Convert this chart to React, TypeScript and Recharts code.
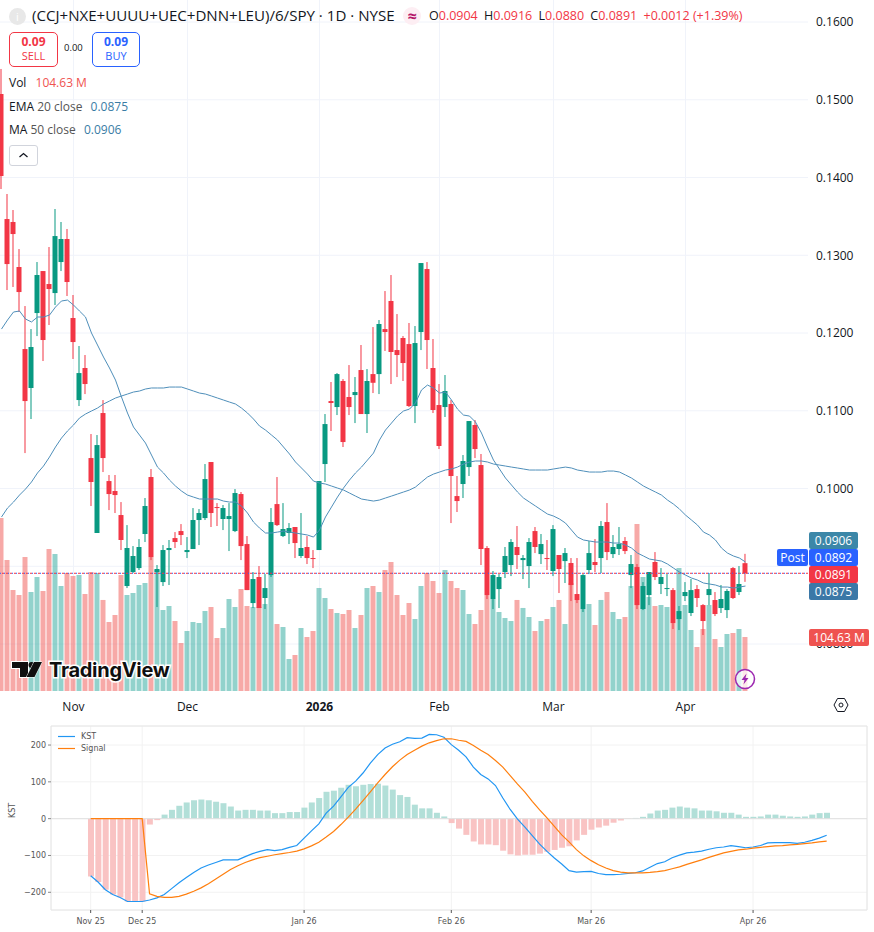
import React from 'react';
import { ComposedChart, Bar, Line, Cell, XAxis, YAxis, CartesianGrid, ReferenceLine, ReferenceArea } from 'recharts';

const opens = [
  0.15074, 0.13466, 0.13428, 0.12849, 0.11794, 0.11293, 0.12257, 0.12797, 0.12630, 0.12514,
  0.12913, 0.13209, 0.12193, 0.11138, 0.11550, 0.10392, 0.09428, 0.10971, 0.10096, 0.09968,
  0.09659, 0.08746, 0.08926, 0.08977, 0.09415, 0.10148, 0.08926, 0.08797, 0.09209, 0.09363,
  0.09453, 0.09183, 0.09222, 0.09595, 0.09620, 0.10341, 0.09762, 0.09608, 0.09608, 0.09453,
  0.09929, 0.09286, 0.08527, 0.08862, 0.08592, 0.08887, 0.09800, 0.09389, 0.09428, 0.09505,
  0.09132, 0.09248, 0.09106, 0.09209, 0.10315, 0.11125, 0.11048, 0.11383, 0.11177, 0.11202,
  0.11524, 0.10958, 0.11472, 0.11472, 0.12051, 0.12412, 0.11781, 0.11936, 0.11858, 0.11061,
  0.12013, 0.12823, 0.11550, 0.11074, 0.11048, 0.11087, 0.09903, 0.10058, 0.10276, 0.10817,
  0.10302, 0.09235, 0.08579, 0.08707, 0.08926, 0.09016, 0.09248, 0.09080, 0.09003, 0.09453,
  0.09157, 0.09106, 0.08939, 0.09145, 0.09067, 0.09042, 0.08643, 0.08450, 0.08952, 0.09055,
  0.09106, 0.09569, 0.09157, 0.09222, 0.09325, 0.08887, 0.08990, 0.08450, 0.08630, 0.09055,
  0.08772, 0.08707, 0.08694, 0.08321, 0.08617, 0.08399, 0.08707, 0.08501, 0.08630, 0.08566,
  0.08463, 0.08437, 0.08977, 0.08669, 0.09040,
];
const highs = [
  0.15396, 0.13788, 0.13582, 0.13080, 0.12347, 0.12051, 0.12913, 0.12797, 0.13106, 0.13595,
  0.13428, 0.13338, 0.12489, 0.11833, 0.11717, 0.10701, 0.10688, 0.11138, 0.10174, 0.10174,
  0.09826, 0.09530, 0.09260, 0.09350, 0.09878, 0.10251, 0.09016, 0.09273, 0.09338, 0.09440,
  0.09543, 0.09376, 0.09749, 0.09736, 0.10315, 0.10341, 0.09813, 0.09788, 0.09813, 0.09993,
  0.09955, 0.09389, 0.08926, 0.09003, 0.08900, 0.09749, 0.10148, 0.09813, 0.09556, 0.09505,
  0.09685, 0.09389, 0.09209, 0.10096, 0.10958, 0.11370, 0.11485, 0.11408, 0.11588, 0.11434,
  0.11846, 0.11537, 0.12077, 0.12167, 0.12540, 0.12746, 0.12244, 0.11961, 0.12129, 0.12090,
  0.12900, 0.12913, 0.11923, 0.11344, 0.11460, 0.11138, 0.10161, 0.10431, 0.10868, 0.10881,
  0.10444, 0.09260, 0.08939, 0.08900, 0.09248, 0.09350, 0.09518, 0.09145, 0.09363, 0.09505,
  0.09415, 0.09338, 0.09530, 0.09145, 0.09235, 0.09106, 0.09106, 0.08900, 0.09325, 0.09350,
  0.09582, 0.09813, 0.09402, 0.09505, 0.09376, 0.09145, 0.09029, 0.08797, 0.08926, 0.09183,
  0.08977, 0.08900, 0.08720, 0.08489, 0.08797, 0.08836, 0.08759, 0.08514, 0.08913, 0.08669,
  0.08759, 0.08707, 0.08990, 0.09003, 0.09160,
];
const lows = [
  0.13852, 0.12553, 0.12592, 0.12270, 0.10456, 0.10894, 0.11961, 0.11640, 0.12103, 0.12360,
  0.12797, 0.12476, 0.11666, 0.11061, 0.11215, 0.09775, 0.09428, 0.10212, 0.09723, 0.09685,
  0.09209, 0.08720, 0.08913, 0.08952, 0.09312, 0.09080, 0.08476, 0.08746, 0.08759, 0.09235,
  0.09273, 0.09106, 0.09222, 0.09273, 0.09595, 0.09505, 0.09518, 0.09466, 0.09196, 0.09440,
  0.09080, 0.08694, 0.08463, 0.08463, 0.08450, 0.08862, 0.09518, 0.09376, 0.09286, 0.09106,
  0.09106, 0.09029, 0.08977, 0.09209, 0.10084, 0.10740, 0.10945, 0.10534, 0.10945, 0.10842,
  0.10958, 0.10714, 0.11228, 0.11215, 0.11769, 0.11344, 0.11434, 0.11383, 0.11048, 0.10842,
  0.11781, 0.11537, 0.10971, 0.10508, 0.10920, 0.09556, 0.09698, 0.09878, 0.10161, 0.10392,
  0.09016, 0.08579, 0.08450, 0.08463, 0.08849, 0.08874, 0.08965, 0.08836, 0.08720, 0.09170,
  0.09029, 0.08952, 0.08874, 0.08656, 0.08785, 0.08553, 0.08527, 0.08412, 0.08900, 0.08926,
  0.08913, 0.09080, 0.09106, 0.09145, 0.09157, 0.08720, 0.08450, 0.08437, 0.08501, 0.08823,
  0.08643, 0.08617, 0.08193, 0.08180, 0.08553, 0.08360, 0.08476, 0.08116, 0.08501, 0.08360,
  0.08399, 0.08334, 0.08579, 0.08630, 0.08800,
];
const closes = [
  0.14019, 0.12887, 0.13273, 0.12527, 0.11125, 0.11820, 0.12746, 0.11910, 0.12566, 0.13247,
  0.13209, 0.12656, 0.11884, 0.11485, 0.11344, 0.10084, 0.10559, 0.10392, 0.09929, 0.09916,
  0.09338, 0.09235, 0.09132, 0.09248, 0.09775, 0.09119, 0.08965, 0.09209, 0.09235, 0.09312,
  0.09402, 0.09209, 0.09595, 0.09685, 0.10122, 0.09685, 0.09749, 0.09749, 0.09646, 0.09942,
  0.09260, 0.08694, 0.08836, 0.08463, 0.08720, 0.09569, 0.09530, 0.09479, 0.09492, 0.09299,
  0.09235, 0.09106, 0.09093, 0.10096, 0.10829, 0.11100, 0.11472, 0.10598, 0.11048, 0.11241,
  0.10958, 0.11383, 0.11360, 0.12116, 0.12013, 0.11756, 0.11717, 0.11614, 0.11061, 0.11871,
  0.12900, 0.11910, 0.11010, 0.10547, 0.11254, 0.10161, 0.09839, 0.10354, 0.10868, 0.10508,
  0.09222, 0.08630, 0.08887, 0.08862, 0.09132, 0.09312, 0.09145, 0.09106, 0.09312, 0.09248,
  0.09286, 0.09093, 0.09479, 0.08965, 0.09170, 0.08759, 0.08566, 0.08887, 0.09170, 0.09016,
  0.09518, 0.09183, 0.09248, 0.09286, 0.09196, 0.09029, 0.08501, 0.08746, 0.08926, 0.08862,
  0.08862, 0.08720, 0.08270, 0.08424, 0.08669, 0.08694, 0.08592, 0.08296, 0.08707, 0.08386,
  0.08579, 0.08682, 0.08592, 0.08772, 0.08910,
];
// volume in millions
const volumes = [
  335.3, 253.9, 195.7, 186, 259.7, 191.9, 220.9, 193.8, 275.2, 265.5,
  203.5, 228.7, 222.9, 224.8, 188, 230.6, 228.7, 176.4, 133.7, 147.3,
  224.8, 186, 189.9, 205.4, 209.3, 259.7, 234.5, 157, 164.7, 135.7,
  93, 116.3, 133.7, 131.8, 155, 162.8, 102.7, 122.1, 178.3, 162.8,
  197.7, 164.7, 162.8, 162.8, 168.6, 224.8, 129.8, 124, 62, 69.8,
  122.1, 104.7, 116.3, 199.6, 180.2, 158.9, 151.2, 149.2, 157, 122.1,
  147.3, 199.6, 203.5, 191.9, 234.5, 250, 186, 147.3, 170.5, 139.5,
  203.5, 228.7, 213.2, 189.9, 234.5, 213.2, 199.6, 195.7, 149.2, 129.8,
  157, 186, 178.3, 153.1, 141.5, 135.7, 176.4, 160.9, 143.4, 116.3,
  135.7, 139.5, 162.8, 176.4, 129.8, 209.3, 176.4, 158.9, 168.6, 127.9,
  176.4, 191.9, 153.1, 139.5, 143.4, 203.5, 323.6, 220.9, 182.2, 164.7,
  166.7, 162.8, 131.8, 238.4, 166.7, 118.2, 85.3, 120.2, 166.7, 100.8,
  85.3, 110.5, 112.4, 120.2, 104.63,
];
const ema20 = [
  0.12051, 0.12167, 0.12270, 0.12283, 0.12180, 0.12142, 0.12206, 0.12206, 0.12231, 0.12334,
  0.12412, 0.12424, 0.12360, 0.12283, 0.12206, 0.12000, 0.11846, 0.11691, 0.11550, 0.11395,
  0.11177, 0.10971, 0.10791, 0.10688, 0.10585, 0.10431, 0.10276, 0.10200, 0.10109, 0.10032,
  0.09968, 0.09916, 0.09890, 0.09865, 0.09865, 0.09865, 0.09865, 0.09839, 0.09826, 0.09826,
  0.09775, 0.09685, 0.09569, 0.09492, 0.09428, 0.09428, 0.09440, 0.09453, 0.09440, 0.09428,
  0.09415, 0.09402, 0.09376, 0.09466, 0.09634, 0.09762, 0.09890, 0.10006, 0.10109, 0.10200,
  0.10276, 0.10366, 0.10456, 0.10624, 0.10752, 0.10842, 0.10932, 0.10997, 0.11022, 0.11100,
  0.11267, 0.11331, 0.11293, 0.11228, 0.11241, 0.11138, 0.11022, 0.10945, 0.10932, 0.10855,
  0.10714, 0.10534, 0.10366, 0.10251, 0.10135, 0.10045, 0.09955, 0.09878, 0.09826, 0.09775,
  0.09723, 0.09672, 0.09646, 0.09608, 0.09556, 0.09466, 0.09376, 0.09338, 0.09325, 0.09312,
  0.09312, 0.09312, 0.09299, 0.09299, 0.09273, 0.09235, 0.09170, 0.09132, 0.09093, 0.09080,
  0.09067, 0.09029, 0.08977, 0.08926, 0.08887, 0.08849, 0.08823, 0.08785, 0.08772, 0.08759,
  0.08733, 0.08733, 0.08720, 0.08733, 0.08746,
];
const ma50 = [
  0.09634, 0.09749, 0.09826, 0.09916, 0.09993, 0.10084, 0.10200, 0.10289, 0.10405, 0.10534,
  0.10649, 0.10740, 0.10817, 0.10907, 0.10958, 0.10997, 0.11035, 0.11087, 0.11125, 0.11164,
  0.11190, 0.11215, 0.11241, 0.11254, 0.11280, 0.11293, 0.11293, 0.11293, 0.11305, 0.11305,
  0.11305, 0.11280, 0.11254, 0.11228, 0.11215, 0.11190, 0.11164, 0.11138, 0.11112, 0.11087,
  0.11035, 0.10971, 0.10894, 0.10804, 0.10752, 0.10688, 0.10624, 0.10534, 0.10444, 0.10341,
  0.10264, 0.10186, 0.10096, 0.10071, 0.10058, 0.10032, 0.10006, 0.09981, 0.09942, 0.09903,
  0.09865, 0.09852, 0.09839, 0.09852, 0.09878, 0.09903, 0.09929, 0.09955, 0.09981, 0.10019,
  0.10084, 0.10148, 0.10186, 0.10212, 0.10238, 0.10251, 0.10276, 0.10315, 0.10341, 0.10354,
  0.10354, 0.10341, 0.10315, 0.10302, 0.10289, 0.10276, 0.10264, 0.10251, 0.10238, 0.10238,
  0.10238, 0.10238, 0.10251, 0.10264, 0.10276, 0.10264, 0.10238, 0.10225, 0.10212, 0.10212,
  0.10212, 0.10225, 0.10225, 0.10212, 0.10174, 0.10135, 0.10084, 0.10032, 0.09993, 0.09955,
  0.09916, 0.09852, 0.09800, 0.09736, 0.09659, 0.09595, 0.09530, 0.09440, 0.09402, 0.09338,
  0.09235, 0.09170, 0.09132, 0.09106, 0.09055,
];
const priceGridTicks = [0.08, 0.09, 0.1, 0.11, 0.12, 0.13, 0.14, 0.15, 0.16];
// 0.0900 is covered by the price tags in the reference, so no label for it
const priceLabelTicks = [0.08, 0.1, 0.11, 0.12, 0.13, 0.14, 0.15, 0.16];
const monthTicks = [12, 31, 53, 73, 92, 114];
const monthLabels = ['Nov', 'Dec', '2026', 'Feb', 'Mar', 'Apr'];

const kst = [
  -155, -172, -193, -206, -214, -225, -225, -225, -221, -215,
  -206, -190, -174, -160, -146, -134, -126, -119, -112, -112,
  -112, -103, -95, -89, -84, -87, -84, -78, -73, -53,
  -33, -14, 15, 34, 59, 85, 102, 124, 151, 174,
  192, 202, 209, 220, 218, 219, 229, 228, 221, 201,
  186, 168, 140, 120, 108, 90, 56, 25, -1, -23,
  -46, -69, -89, -107, -123, -141, -145, -144, -143, -149,
  -152, -152, -151, -149, -147, -142, -132, -122, -117, -106,
  -99, -93, -91, -88, -83, -79, -77, -73, -76, -79,
  -77, -73, -66, -65, -65, -65, -67, -64, -59, -53,
  -45,
];
const signal = [
  0, 0, 0, 0, 0, 0, 0, 0, -204, -211,
  -214, -214, -211, -205, -197, -188, -177, -164, -151, -138,
  -128, -119, -112, -106, -102, -98, -95, -92, -88, -82,
  -74, -64, -50, -35, -16, 4, 26, 49, 73, 97,
  120, 141, 159, 174, 186, 197, 206, 212, 217, 217,
  213, 210, 199, 186, 174, 158, 140, 117, 94, 72,
  47, 24, 2, -21, -44, -63, -84, -101, -114, -125,
  -134, -141, -145, -147, -147, -147, -146, -144, -141, -136,
  -131, -124, -118, -112, -105, -99, -93, -89, -85, -83,
  -80, -78, -76, -74, -73, -71, -70, -68, -66, -63,
  -61,
];
const histogram = [
  -157, -172, -193, -206, -214, -225, -225, -225, -16, -4,
  11, 24, 35, 44, 50, 52, 50, 46, 42, 33,
  22, 24, 24, 22, 22, 15, 15, 18, 18, 30,
  44, 56, 73, 76, 84, 92, 88, 92, 94, 95,
  90, 79, 64, 59, 38, 28, 28, 16, 6, -12,
  -27, -44, -62, -70, -70, -72, -87, -97, -100, -98,
  -98, -95, -90, -85, -79, -75, -59, -44, -30, -24,
  -19, -11, -5, -1, 2, 5, 14, 22, 24, 30,
  33, 30, 28, 22, 22, 20, 16, 16, 11, 5,
  5, 6, 11, 11, 8, 6, 5, 6, 11, 15,
  16,
];
const kstTicks = [-200, -100, 0, 100, 200];
const kstDateTicks = [0, 7, 29, 49, 68, 90];
const kstDateLabels = ['Nov 25', 'Dec 25', 'Jan 26', 'Feb 26', 'Mar 26', 'Apr 26'];

const UP = '#089981';
const DOWN = '#F23645';
const MA_COLOR = '#4f8fba';
const UI_FONT = '"Open Sans", "Noto Sans", sans-serif';
const PLOT_FONT = '"DejaVu Sans", sans-serif';
const PRICE_DOMAIN = [0.07396, 0.16283];
const BAR_DOMAIN = [-0.25, 134.42];

const candleRows = closes.map((close, i) => ({
  idx: i,
  open: opens[i],
  high: highs[i],
  low: lows[i],
  close,
  range: [lows[i], highs[i]],
  volume: volumes[i],
  ema: ema20[i],
  ma: ma50[i],
}));
const kstRows = kst.map((value, i) => ({ idx: i, kst: value, signal: signal[i], hist: histogram[i] }));

const Candle = (props: any) => {
  const { x, y, width, height, payload } = props;
  const { open, high, low, close } = payload;
  const pxPerPrice = height / (high - low);
  const top = y + (high - Math.max(open, close)) * pxPerPrice;
  const bodyHeight = Math.max(1, Math.abs(open - close) * pxPerPrice);
  const color = close >= open ? UP : DOWN;
  return (
    <g>
      <rect x={x + width / 2 - 0.5} y={y} width={1} height={height} fill={color} />
      <rect x={x} y={top} width={width} height={bodyHeight} fill={color} />
    </g>
  );
};

const MonthTick = (props: any) => {
  const { x, y, payload } = props;
  const label = monthLabels[monthTicks.indexOf(payload.value)];
  return (
    <text x={x} y={y + 12} textAnchor="middle" fontFamily={UI_FONT} fontSize={12} fontWeight={label === '2026' ? 700 : 400} fill="#131722">
      {label}
    </text>
  );
};

const Label = ({ x, y, children, style }: any) => (
  <div style={{ position: 'absolute', left: x, top: y, whiteSpace: 'nowrap', fontFamily: UI_FONT, lineHeight: 1, ...style }}>{children}</div>
);

const PriceTag = ({ y, color, text, width = 49 }: any) => (
  <div style={{ position: 'absolute', left: 809, top: y, width, height: 17, background: color, color: '#fff', borderRadius: 2, fontFamily: UI_FONT, fontSize: 12, lineHeight: '17px', textAlign: 'center' }}>{text}</div>
);

const TradeBox = ({ x, width, color, text }: any) => (
  <div style={{ position: 'absolute', left: x, top: 32, width, height: 33, border: `1px solid ${color}`, borderRadius: 5, color, textAlign: 'center', fontFamily: UI_FONT }}>
    <div style={{ fontSize: 12, fontWeight: 700, lineHeight: '15px', marginTop: 1 }}>0.09</div>
    <div style={{ fontSize: 11, lineHeight: '13px' }}>{text}</div>
  </div>
);

const Header = () => (
  <>
    <div style={{ position: 'absolute', left: 9, top: 8, width: 17, height: 17, borderRadius: 9, background: '#e8e8e8', color: '#fff', fontFamily: UI_FONT, fontSize: 11, lineHeight: '17px', textAlign: 'center' }}>i</div>
    <Label x={32} y={8} style={{ fontSize: 15.1, color: '#131722' }}>(CCJ+NXE+UUUU+UEC+DNN+LEU)/6/SPY · 1D · NYSE</Label>
    <div style={{ position: 'absolute', left: 403, top: 7, width: 18, height: 18, borderRadius: 9, background: '#fdeef3', color: '#b5176a', fontFamily: UI_FONT, fontSize: 16, fontWeight: 700, lineHeight: '18px', textAlign: 'center' }}>≈</div>
    <Label x={429} y={10} style={{ fontSize: 12.5, color: DOWN }}>
      <span style={{ color: '#131722' }}>O</span>0.0904 <span style={{ color: '#131722', marginLeft: 3 }}>H</span>0.0916 <span style={{ color: '#131722', marginLeft: 3 }}>L</span>0.0880 <span style={{ color: '#131722', marginLeft: 3 }}>C</span>0.0891 <span style={{ marginLeft: 3 }}>+0.0012 (+1.39%)</span>
    </Label>
    <TradeBox x={9} width={47} color={DOWN} text="SELL" />
    <Label x={64} y={43} style={{ fontSize: 9.5, color: '#131722' }}>0.00</Label>
    <TradeBox x={92} width={46} color="#2962FF" text="BUY" />
    <Label x={9} y={77} style={{ fontSize: 12, color: '#131722' }}>Vol <span style={{ color: '#EF5350', marginLeft: 6 }}>104.63 M</span></Label>
    <Label x={9} y={101} style={{ fontSize: 12, color: '#131722' }}>EMA <span style={{ color: '#555' }}>20 close</span> <span style={{ color: '#3a7ca5', marginLeft: 5 }}>0.0875</span></Label>
    <Label x={9} y={124} style={{ fontSize: 12, color: '#131722' }}>MA <span style={{ color: '#555' }}>50 close</span> <span style={{ color: '#3a7ca5', marginLeft: 5 }}>0.0906</span></Label>
    <div style={{ position: 'absolute', left: 9, top: 145, width: 27, height: 19, border: '1px solid #d1d4dc', borderRadius: 3 }}>
      <svg width={27} height={19}><path d="M9.5 11 L13.5 7.5 L17.5 11" fill="none" stroke="#131722" strokeWidth={1.3} /></svg>
    </div>
  </>
);

const Badges = () => (
  <>
    <PriceTag y={532} color="#3C87A8" text="0.0906" />
    <PriceTag y={549} color="#2962FF" text="0.0892" />
    <PriceTag y={566} color={DOWN} text="0.0891" />
    <PriceTag y={583} color="#3B78A7" text="0.0875" />
    <PriceTag y={629} color="#EF5350" text="104.63 M" width={60} />
    <div style={{ position: 'absolute', left: 777, top: 549, width: 31, height: 17, background: '#2962FF', color: '#fff', borderRadius: 2, fontFamily: UI_FONT, fontSize: 12, lineHeight: '17px', textAlign: 'center' }}>Post</div>
    <div style={{ position: 'absolute', left: 49, top: 660, fontFamily: '"Inter", sans-serif', fontSize: 20, fontWeight: 700, lineHeight: '20px', color: '#0f0f0f', WebkitTextStroke: '3px #fff', paintOrder: 'stroke fill', letterSpacing: -0.3 }}>TradingView</div>
    <svg style={{ position: 'absolute', left: 0, top: 650 }} width={50} height={40}>
      <path d="M12 12 H28 V27 H20 V18 H12 Z" fill="#0f0f0f" stroke="#fff" strokeWidth={2} paintOrder="stroke" />
      <circle cx={31.5} cy={15} r={3} fill="#0f0f0f" />
      <path d="M34 12 H42 L34.5 27 H26.5 Z" fill="#0f0f0f" stroke="#fff" strokeWidth={1} paintOrder="stroke" />
    </svg>
    <svg style={{ position: 'absolute', left: 733, top: 667 }} width={24} height={24}>
      <circle cx={12} cy={12} r={9.5} fill="rgba(255,255,255,0.75)" stroke="#9C27B0" strokeWidth={1.5} />
      <path d="M13.5 6.5 L8.5 13 H11.5 L10.5 17.5 L15.5 11 H12.5 Z" fill="#9C27B0" />
    </svg>
    <svg style={{ position: 'absolute', left: 832, top: 696 }} width={18} height={18}>
      <path d="M5.5 2.5 H12.5 L16 9 L12.5 15.5 H5.5 L2 9 Z" fill="none" stroke="#131722" strokeWidth={1} />
      <circle cx={9} cy={9} r={2} fill="none" stroke="#131722" strokeWidth={1} />
    </svg>
  </>
);

const KstLegend = () => (
  <>
    <svg style={{ position: 'absolute', left: 57, top: 730 }} width={20} height={24}>
      <line x1={1} x2={18} y1={6.5} y2={6.5} stroke="#2196F3" strokeWidth={1.2} />
      <line x1={1} x2={18} y1={18.5} y2={18.5} stroke="#FF7F0E" strokeWidth={1.2} />
    </svg>
    <Label x={81} y={733} style={{ fontFamily: PLOT_FONT, fontSize: 8, color: '#555' }}>KST</Label>
    <Label x={81} y={745} style={{ fontFamily: PLOT_FONT, fontSize: 8, color: '#555' }}>Signal</Label>
  </>
);

export default function App() {
  return (
    <div style={{ position: 'absolute', left: 0, top: 0, width: 874, height: 932, overflow: 'hidden', background: '#fff' }}>
      {/* volume sits in its own chart under the candles, two Bars in one chart get placed side by side */}
      <div style={{ position: 'absolute', left: 0, top: 0 }}>
        <ComposedChart width={874} height={715} data={candleRows} margin={{ top: 0, right: 66, bottom: 24, left: 0 }}>
          <CartesianGrid stroke="#f0f3fa" strokeWidth={1} yAxisId="price" horizontalValues={priceGridTicks} verticalValues={monthTicks} />
          <XAxis dataKey="idx" type="number" hide domain={BAR_DOMAIN} allowDataOverflow ticks={monthTicks} />
          <YAxis yAxisId="price" hide type="number" domain={PRICE_DOMAIN} allowDataOverflow ticks={priceGridTicks} />
          <YAxis yAxisId="vol" hide type="number" domain={[0, 1339]} allowDataOverflow />
          <Bar yAxisId="vol" dataKey="volume" barSize={5} isAnimationActive={false}>
            {candleRows.map(row => (
              <Cell key={row.idx} fill={row.close >= row.open ? 'rgba(38,166,154,0.5)' : 'rgba(239,83,80,0.5)'} />
            ))}
          </Bar>
        </ComposedChart>
      </div>

      <div style={{ position: 'absolute', left: 0, top: 0 }}>
        <ComposedChart width={874} height={715} data={candleRows} margin={{ top: 0, right: 0, bottom: 0, left: 0 }}>
          <XAxis
            dataKey="idx"
            type="number"
            domain={BAR_DOMAIN}
            allowDataOverflow
            ticks={monthTicks}
            interval={0}
            tick={<MonthTick />}
            tickLine={false}
            axisLine={false}
            height={24}
          />
          <YAxis
            orientation="right"
            type="number"
            domain={PRICE_DOMAIN}
            allowDataOverflow
            ticks={priceLabelTicks}
            interval={0}
            width={66}
            tickFormatter={(v: number) => v.toFixed(4)}
            tick={{ fontFamily: UI_FONT, fontSize: 12, fill: '#131722' }}
            tickLine={false}
            axisLine={false}
            tickMargin={2}
          />
          <Line dataKey="ema" stroke={MA_COLOR} strokeWidth={1} dot={false} activeDot={false} isAnimationActive={false} />
          <Line dataKey="ma" stroke={MA_COLOR} strokeWidth={1} dot={false} activeDot={false} isAnimationActive={false} />
          <Bar dataKey="range" barSize={5} shape={<Candle />} isAnimationActive={false} />
          <ReferenceLine y={0.0891} stroke={DOWN} strokeWidth={1} strokeDasharray="2 2" />
          <ReferenceLine y={0.0891} stroke="#2962FF" strokeWidth={1} strokeDasharray="1 3" strokeDashoffset={1} />
        </ComposedChart>
      </div>

      <div style={{ position: 'absolute', left: 0, top: 720 }}>
        <ComposedChart width={874} height={212} data={kstRows} margin={{ top: 6, right: 7, bottom: 0, left: 0 }}>
          <CartesianGrid stroke="#f2f2f2" strokeWidth={1} />
          <XAxis
            dataKey="idx"
            type="number"
            domain={[-5.39, 105.48]}
            allowDataOverflow
            ticks={kstDateTicks}
            interval={0}
            tickFormatter={(v: number) => kstDateLabels[kstDateTicks.indexOf(v)]}
            tick={{ fontFamily: PLOT_FONT, fontSize: 8, fill: '#555' }}
            tickLine={{ stroke: '#555' }}
            tickSize={3}
            tickMargin={5}
            axisLine={false}
            height={22}
          />
          <YAxis
            type="number"
            domain={[-248.1, 251.7]}
            allowDataOverflow
            ticks={kstTicks}
            interval={0}
            width={51}
            tickFormatter={(v: number) => String(v).replace('-', '−')}
            tick={{ fontFamily: PLOT_FONT, fontSize: 8, fill: '#555' }}
            tickLine={{ stroke: '#888' }}
            tickSize={3}
            axisLine={false}
            label={{ value: 'KST', angle: -90, position: 'insideLeft', offset: 12, style: { fontFamily: PLOT_FONT, fontSize: 8, fill: '#555' } }}
          />
          <ReferenceArea x1={-5.39} x2={105.48} y1={-248.1} y2={251.7} fill="none" stroke="#e6e6e6" strokeWidth={1} />
          <ReferenceLine y={0} stroke="#e0e0e0" strokeWidth={1} />
          <Bar dataKey="hist" barSize={6} isAnimationActive={false}>
            {kstRows.map(row => (
              <Cell key={row.idx} fill={row.hist >= 0 ? '#b2dfd8' : '#f9c3c3'} />
            ))}
          </Bar>
          <Line dataKey="kst" stroke="#2196F3" strokeWidth={1.2} dot={false} activeDot={false} isAnimationActive={false} />
          <Line dataKey="signal" stroke="#FF7F0E" strokeWidth={1.2} dot={false} activeDot={false} isAnimationActive={false} />
        </ComposedChart>
      </div>

      <Header />
      <Badges />
      <KstLegend />
    </div>
  );
}
